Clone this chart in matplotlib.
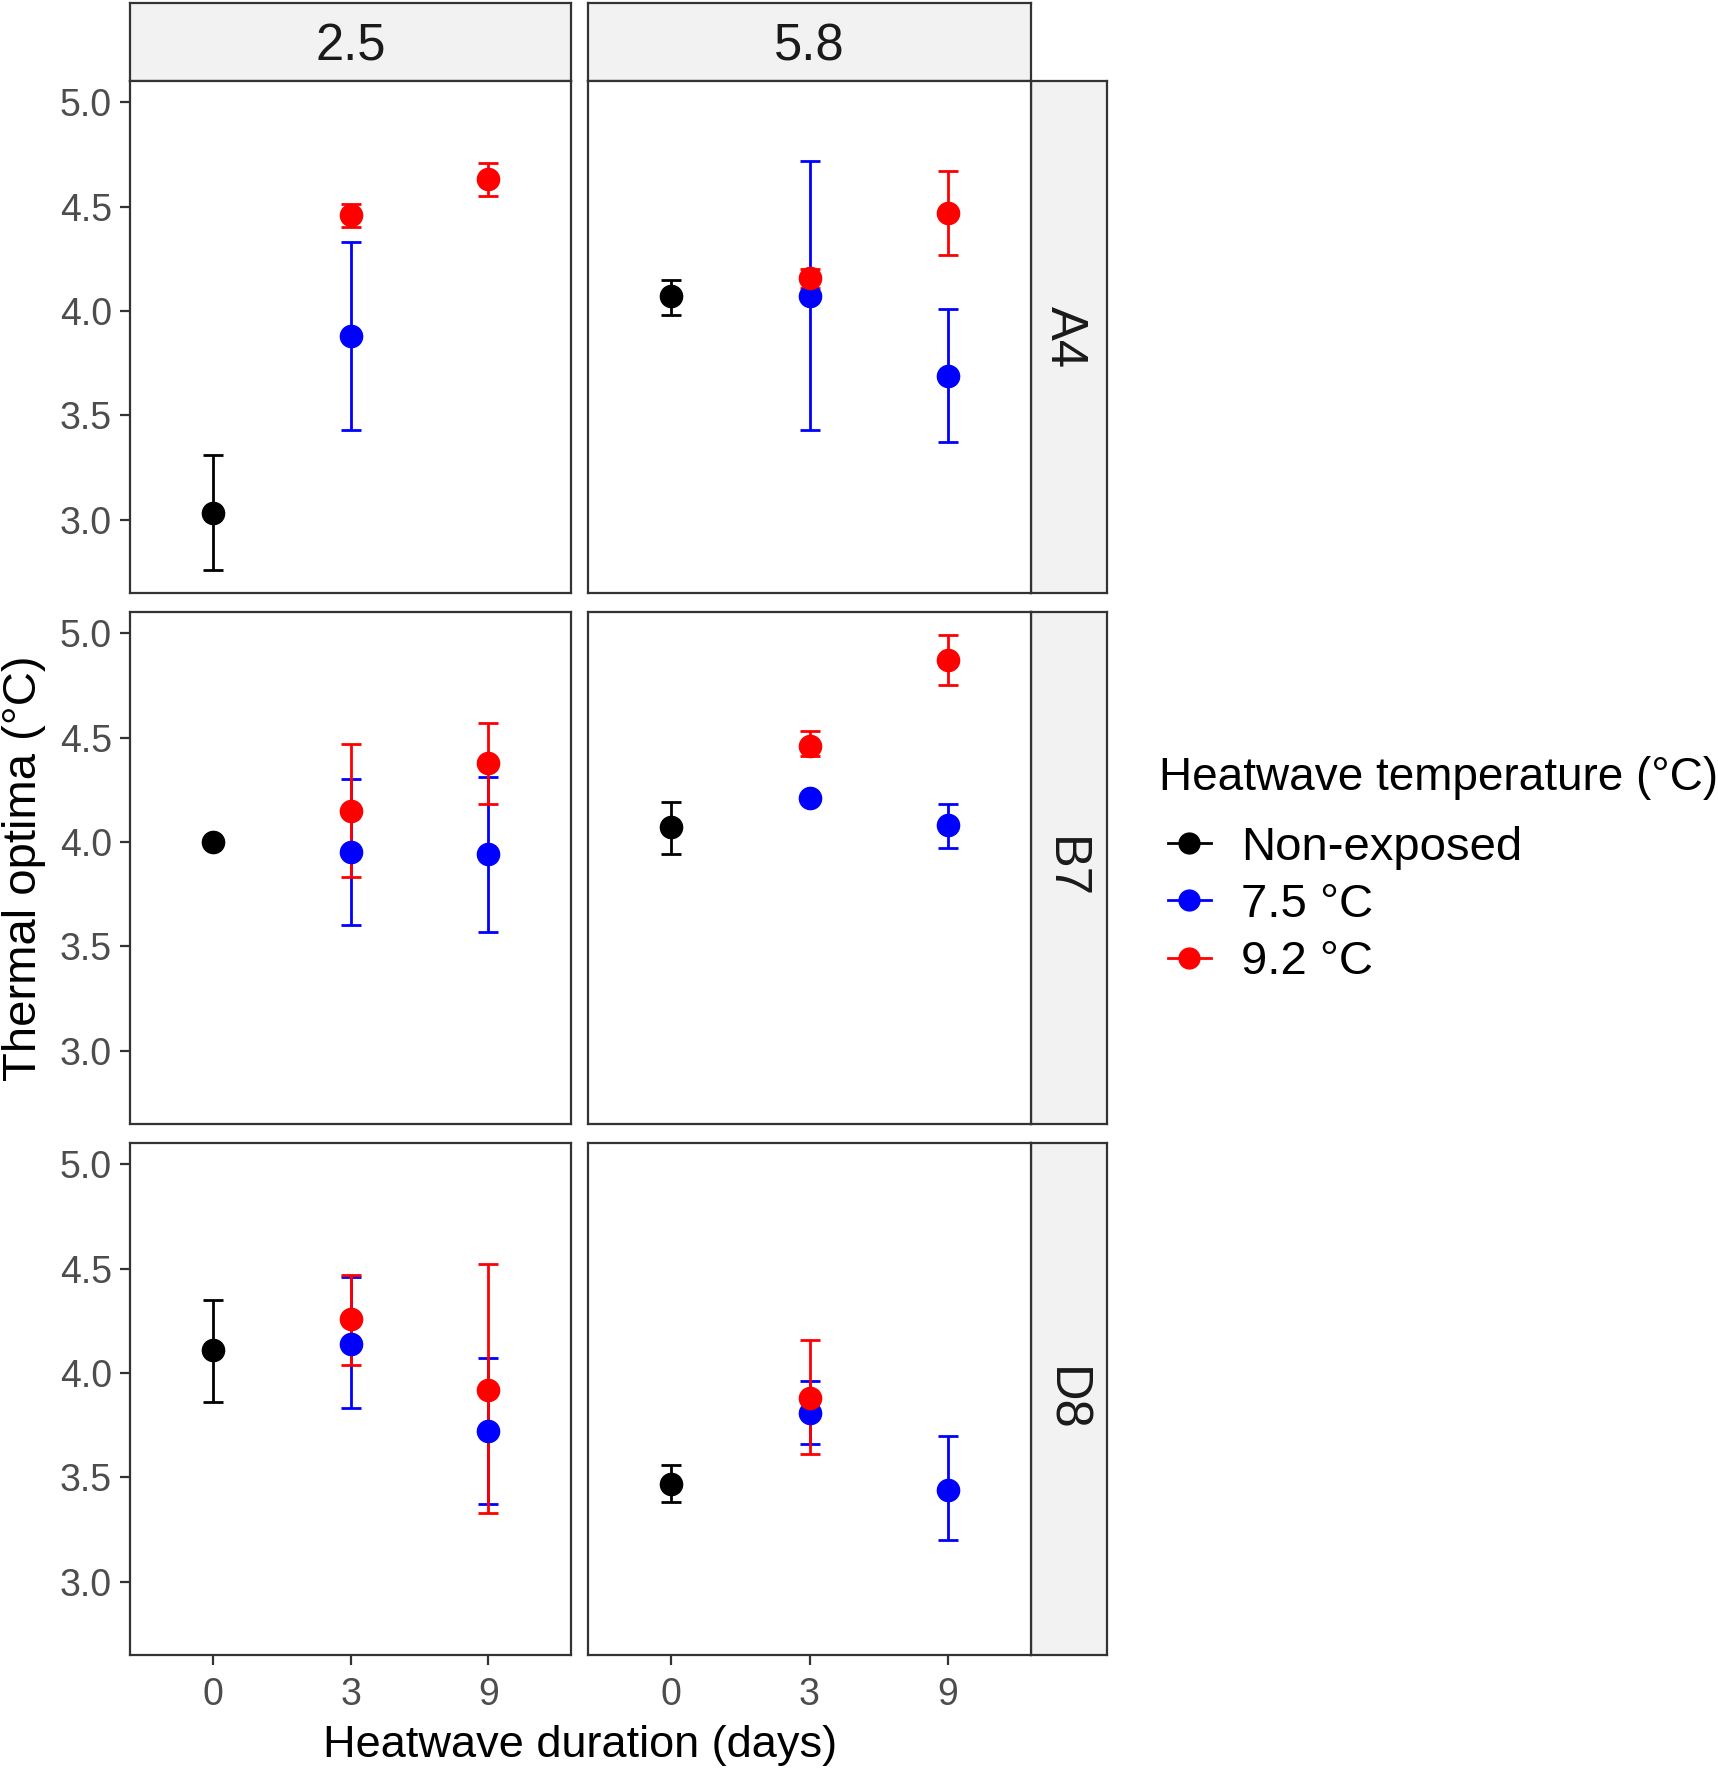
import matplotlib
matplotlib.use("Agg")
import matplotlib.pyplot as plt
from matplotlib.lines import Line2D
import numpy as np

plt.rcParams['font.family'] = ['Liberation Sans', 'DejaVu Sans']

# ---------------- data ----------------
row_labels = ['A4', 'B7', 'D8']
col_labels = ['2.5', '5.8']
durations = ['0', '3', '9']
groups = ['Non-exposed', '7.5 °C', '9.2 °C']
group_colors = ['#000000', '#0000FF', '#FF0000']

panel_row = ['A4', 'A4', 'A4', 'A4',
             'A4', 'A4', 'A4', 'A4', 'A4',
             'B7', 'B7', 'B7', 'B7', 'B7',
             'B7', 'B7', 'B7', 'B7', 'B7',
             'D8', 'D8', 'D8', 'D8', 'D8',
             'D8', 'D8', 'D8', 'D8']
panel_col = ['2.5', '2.5', '2.5', '2.5',
             '5.8', '5.8', '5.8', '5.8', '5.8',
             '2.5', '2.5', '2.5', '2.5', '2.5',
             '5.8', '5.8', '5.8', '5.8', '5.8',
             '2.5', '2.5', '2.5', '2.5', '2.5',
             '5.8', '5.8', '5.8', '5.8']
group = ['Non-exposed', '7.5 °C', '9.2 °C', '9.2 °C',
         'Non-exposed', '7.5 °C', '9.2 °C', '7.5 °C', '9.2 °C',
         'Non-exposed', '7.5 °C', '9.2 °C', '7.5 °C', '9.2 °C',
         'Non-exposed', '7.5 °C', '9.2 °C', '7.5 °C', '9.2 °C',
         'Non-exposed', '7.5 °C', '9.2 °C', '7.5 °C', '9.2 °C',
         'Non-exposed', '7.5 °C', '9.2 °C', '7.5 °C']
duration = ['0', '3', '3', '9',
            '0', '3', '3', '9', '9',
            '0', '3', '3', '9', '9',
            '0', '3', '3', '9', '9',
            '0', '3', '3', '9', '9',
            '0', '3', '3', '9']
mean = [3.03, 3.88, 4.46, 4.63,
        4.07, 4.07, 4.16, 3.69, 4.47,
        4.00, 3.95, 4.15, 3.94, 4.38,
        4.07, 4.21, 4.46, 4.08, 4.87,
        4.11, 4.14, 4.26, 3.72, 3.92,
        3.47, 3.81, 3.88, 3.44]
lower = [2.76, 3.43, 4.40, 4.55,
         3.98, 3.43, 4.11, 3.37, 4.27,
         3.98, 3.60, 3.83, 3.57, 4.18,
         3.94, 4.20, 4.41, 3.97, 4.75,
         3.86, 3.83, 4.04, 3.37, 3.33,
         3.38, 3.66, 3.61, 3.20]
upper = [3.31, 4.33, 4.51, 4.71,
         4.15, 4.72, 4.20, 4.01, 4.67,
         4.01, 4.30, 4.47, 4.31, 4.57,
         4.19, 4.23, 4.53, 4.18, 4.99,
         4.35, 4.46, 4.47, 4.07, 4.52,
         3.56, 3.96, 4.16, 3.70]
y_ticks = [3.0, 3.5, 4.0, 4.5, 5.0]

# ---------------- layout ----------------
W, H = 1718, 1773
fig = plt.figure(figsize=(W / 100, H / 100), dpi=100)
fig.patch.set_facecolor('white')

def box(x0, y0, x1, y1):
    return [x0 / W, 1 - y1 / H, (x1 - x0) / W, (y1 - y0) / H]

col_x = [(130, 571), (588, 1031)]
row_y = [(81, 593), (612, 1124), (1143, 1655)]
strip_top = (3, 81)
strip_right = (1031, 1107)

border = '#333333'
strip_fill = '#F2F2F2'
tick_col = '#4D4D4D'
lw_border = 1.6

lo_all, hi_all = min(lower), max(upper)
pad = 0.05 * (hi_all - lo_all)
ylim = (lo_all - pad, hi_all + pad)

mean = np.array(mean); lower = np.array(lower); upper = np.array(upper)
panel_row = np.array(panel_row); panel_col = np.array(panel_col)
group = np.array(group); duration = np.array(duration)
xpos = np.array([durations.index(d) + 1 for d in duration])

def style_strip(ax):
    ax.set_facecolor(strip_fill)
    ax.set_xticks([]); ax.set_yticks([])
    for s in ax.spines.values():
        s.set_color(border); s.set_linewidth(lw_border)

for ci, cl in enumerate(col_labels):
    sax = fig.add_axes(box(col_x[ci][0], strip_top[0], col_x[ci][1], strip_top[1]))
    style_strip(sax)
    sax.text(0.5, 0.44, cl, ha='center', va='center', fontsize=36.5, color='#1A1A1A',
             transform=sax.transAxes)

for ri, rl in enumerate(row_labels):
    sax = fig.add_axes(box(strip_right[0], row_y[ri][0], strip_right[1], row_y[ri][1]))
    style_strip(sax)
    sax.text(0.44, 0.5, rl, ha='center', va='center', fontsize=36.5, color='#1A1A1A',
             rotation=-90, transform=sax.transAxes)
    for ci, cl in enumerate(col_labels):
        ax = fig.add_axes(box(col_x[ci][0], row_y[ri][0], col_x[ci][1], row_y[ri][1]))
        ax.set_xlim(0.4, 3.6)
        ax.set_ylim(*ylim)
        for s in ax.spines.values():
            s.set_color(border); s.set_linewidth(lw_border)
        m = (panel_row == rl) & (panel_col == cl)
        for gi, g in enumerate(groups):
            mm = m & (group == g)
            if mm.any():
                ax.errorbar(xpos[mm], mean[mm],
                            yerr=[mean[mm] - lower[mm], upper[mm] - mean[mm]],
                            fmt='none', ecolor=group_colors[gi], elinewidth=2,
                            capsize=7, capthick=2, zorder=2 + gi * 0.1)
        for gi, g in enumerate(groups):
            mm = m & (group == g)
            if mm.any():
                ax.plot(xpos[mm], mean[mm], 'o', color=group_colors[gi], ms=16,
                        mec=group_colors[gi], zorder=4 + gi * 0.1)
        ax.set_xticks([1, 2, 3])
        ax.set_yticks(y_ticks)
        ax.tick_params(length=7, width=1.6, color=border, labelcolor=tick_col,
                       labelsize=27, pad=6)
        ax.tick_params(axis='x', pad=9)
        if ci == 0:
            ax.set_yticklabels([f'{v:.1f}' for v in y_ticks])
        else:
            ax.tick_params(axis='y', length=0, labelleft=False)
        if ri == len(row_labels) - 1:
            ax.set_xticklabels(durations)
        else:
            ax.tick_params(axis='x', length=0, labelbottom=False)

fig.text(580 / W, 1 - 1745 / H, 'Heatwave duration (days)', ha='center', va='center',
         fontsize=32.5, color='black')
fig.text(24 / W, 1 - 868 / H, 'Thermal optima (°C)', ha='center', va='center',
         fontsize=34, color='black', rotation=90)

# legend title and entries
fig.text(1159 / W, 1 - 778 / H, 'Heatwave temperature (°C)', ha='left', va='center',
         fontsize=33, color='black')
handles = [Line2D([], [], color=c, marker='o', ms=15, lw=2) for c in group_colors]
leg = fig.legend(handles, groups, loc='center left',
                 bbox_to_anchor=(1168 / W, 1 - 905 / H),
                 frameon=False, fontsize=34,
                 handlelength=0.9, handletextpad=0.65, labelspacing=0.28,
                 borderaxespad=0, borderpad=0)

fig.savefig('out.png', dpi=100, facecolor='white')
